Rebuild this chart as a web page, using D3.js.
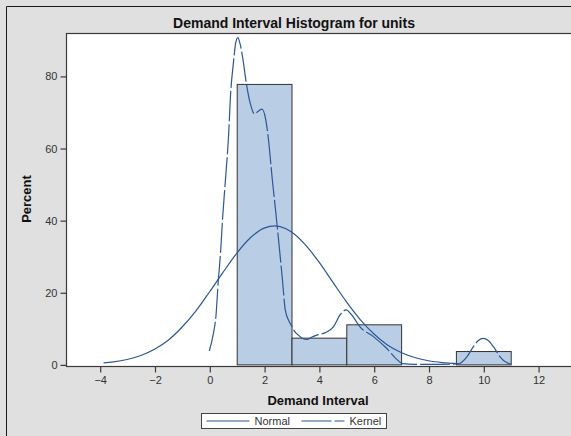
<!DOCTYPE html>
<html>
<head>
<meta charset="utf-8">
<script src="https://cdn.jsdelivr.net/npm/d3@7"></script>
<style>
  html, body { margin: 0; padding: 0; background: #e0e0e0; }
  svg { display: block; }
  text { font-family: "Liberation Sans", Arial, sans-serif; }
</style>
</head>
<body>
<svg id="chart" width="571" height="436"></svg>
<script>
// Histogram bins (demand interval) and their percent of observations
const binLower = [1, 3, 5, 9];
const binUpper = [3, 5, 7, 11];
const binPercent = [77.78, 7.41, 11.11, 3.70];

// Fitted normal density, in percent per bin
const normalX   = [-3.86, -3.5, -3.0, -2.5, -2.0, -1.5, -1.0, -0.5, 0.0, 0.5, 1.0, 1.5, 2.0, 2.4, 2.8, 3.0, 3.5, 4.0, 4.5, 5.0, 5.5, 6.0, 6.5, 7.0, 7.5, 8.0, 8.5, 9.1];
const normalPct = [0.44, 0.7, 1.35, 2.45, 4.2, 6.7, 10.3, 14.7, 20.0, 25.5, 30.8, 35.1, 37.8, 38.4, 37.6, 36.7, 33.2, 28.4, 22.9, 17.4, 12.5, 8.5, 5.4, 3.3, 1.9, 1.0, 0.5, 0.2];

// Kernel density estimate, in percent per bin
const kernelX   = [0.00, 0.15, 0.24, 0.33, 0.41, 0.49, 0.58, 0.70, 0.78, 0.88, 0.96, 1.04, 1.12, 1.21, 1.37, 1.49, 1.65, 1.80, 1.92, 2.06, 2.16, 2.30, 2.43, 2.58, 2.67, 2.77, 2.92, 3.01, 3.10, 3.25, 3.40, 3.56, 3.75, 3.92, 4.23, 4.53, 4.77, 4.99, 5.20, 5.50, 5.99, 6.48, 6.84, 7.05, 7.5, 8.0, 8.5, 9.0, 9.15, 9.40, 9.64, 9.82, 10.0, 10.18, 10.37, 10.61, 10.85, 11.0];
const kernelPct = [3.7, 8.6, 13.2, 23.4, 31.0, 41.0, 50.3, 63.0, 75.3, 83.6, 89.0, 90.6, 89.0, 85.4, 77.1, 72.5, 69.5, 70.3, 70.8, 67.9, 62.3, 51.2, 41.9, 30.5, 23.4, 15.2, 11.8, 10.6, 9.3, 8.1, 7.2, 6.9, 7.6, 8.1, 8.8, 10.4, 13.7, 15.1, 13.7, 10.4, 7.7, 4.4, 1.4, 0.2, 0, 0, 0, 0.1, 0.3, 2.1, 4.9, 6.6, 7.2, 6.6, 4.9, 2.1, 0.5, 0.1];

// Axis ticks
const xTicks = [-4, -2, 0, 2, 4, 6, 8, 10, 12];
const yTicks = [0, 20, 40, 60, 80];

const titleText = "Demand Interval Histogram for units";
const xLabel = "Demand Interval";
const yLabel = "Percent";
const legendItems = [
  { name: "Normal", dash: null },
  { name: "Kernel", dash: "30,3" }
];

const svg = d3.select("#chart");
const W = 571, H = 436;
const plot = { left: 66, top: 33, right: 572, bottom: 366 };

const curveColor = "#2b5797";
const barFill = "#b9cde5";
const frameColor = "#3a3a3a";

const x = d3.scaleLinear().domain([-5.23, 13.2]).range([plot.left, plot.left + 27.4 * 18.43]);
const y = d3.scaleLinear().domain([-0.45, 91.9]).range([plot.bottom, plot.top]);

// Page background and outer border lines
svg.append("rect").attr("width", W).attr("height", H).attr("fill", "#e0e0e0");
svg.append("line").attr("x1", 6.5).attr("x2", 6.5).attr("y1", 6.5).attr("y2", H)
  .attr("stroke", "#1a1a1a").attr("stroke-width", 1);
svg.append("line").attr("x1", 6.5).attr("x2", W).attr("y1", 6.5).attr("y2", 6.5)
  .attr("stroke", "#1a1a1a").attr("stroke-width", 1);

// Plot area
svg.append("rect")
  .attr("x", plot.left).attr("y", plot.top)
  .attr("width", plot.right - plot.left).attr("height", plot.bottom - plot.top)
  .attr("fill", "#ffffff");

svg.append("clipPath").attr("id", "plotClip")
  .append("rect").attr("x", plot.left).attr("y", plot.top)
  .attr("width", plot.right - plot.left).attr("height", plot.bottom - plot.top);

const g = svg.append("g").attr("clip-path", "url(#plotClip)");

// Histogram bars
g.selectAll("rect.bar")
  .data(binPercent.map((p, i) => ({ lo: binLower[i], hi: binUpper[i], p })))
  .join("rect")
  .attr("class", "bar")
  .attr("x", d => x(d.lo) + 0.5)
  .attr("width", d => x(d.hi) - x(d.lo))
  .attr("y", d => y(d.p) + 0.5)
  .attr("height", d => y(0) - y(d.p))
  .attr("fill", barFill)
  .attr("stroke", "#333")
  .attr("stroke-width", 1);

const line = d3.line().x(d => x(d[0])).y(d => y(d[1])).curve(d3.curveMonotoneX);

// Normal curve
g.append("path")
  .datum(normalX.map((v, i) => [v, normalPct[i]]))
  .attr("d", line)
  .attr("fill", "none").attr("stroke", curveColor).attr("stroke-width", 1.2);

// Kernel curve
g.append("path")
  .datum(kernelX.map((v, i) => [v, kernelPct[i]]))
  .attr("d", line)
  .attr("fill", "none").attr("stroke", curveColor).attr("stroke-width", 1.2)
  .attr("stroke-dasharray", "30,3");

// Frame
svg.append("rect")
  .attr("x", plot.left + 0.5).attr("y", plot.top + 0.5)
  .attr("width", plot.right - plot.left).attr("height", plot.bottom - plot.top)
  .attr("fill", "none").attr("stroke", frameColor).attr("stroke-width", 1.2);

// Axes
const xAxis = svg.append("g")
  .attr("transform", `translate(0.5,${plot.bottom + 0.5})`)
  .call(d3.axisBottom(x).tickValues(xTicks).tickSize(6).tickSizeOuter(0).tickPadding(4));
const yAxis = svg.append("g")
  .attr("transform", `translate(${plot.left + 0.5},0.5)`)
  .call(d3.axisLeft(y).tickValues(yTicks).tickSize(6).tickSizeOuter(0).tickPadding(3));
[xAxis, yAxis].forEach(a => {
  a.select(".domain").remove();
  a.selectAll(".tick line").attr("stroke", frameColor).attr("stroke-width", 1.2);
  a.selectAll(".tick text").attr("fill", "#333").style("font-size", "11px")
    .style("font-family", "'Liberation Sans', Arial, sans-serif");
});

// Title and axis labels
svg.append("text")
  .attr("x", 294).attr("y", 28)
  .attr("text-anchor", "middle")
  .style("font-size", "14px").style("font-weight", "bold").attr("fill", "#111")
  .text(titleText);

svg.append("text")
  .attr("x", 318).attr("y", 405)
  .attr("text-anchor", "middle")
  .style("font-size", "13px").style("font-weight", "bold").attr("fill", "#111")
  .text(xLabel);

svg.append("text")
  .attr("transform", "translate(31,199) rotate(-90)")
  .attr("text-anchor", "middle")
  .style("font-size", "13px").style("font-weight", "bold").attr("fill", "#111")
  .text(yLabel);

// Legend
const leg = svg.append("g").attr("transform", "translate(201.5,413.5)");
leg.append("rect").attr("width", 185).attr("height", 15)
  .attr("fill", "#fff").attr("stroke", "#444").attr("stroke-width", 1);
const legItemX = [5, 100];
legendItems.forEach((it, i) => {
  const gi = leg.append("g").attr("transform", `translate(${legItemX[i]},0)`);
  gi.append("line").attr("x1", 0).attr("x2", 43).attr("y1", 7.5).attr("y2", 7.5)
    .attr("stroke", curveColor).attr("stroke-width", 1.2)
    .attr("stroke-dasharray", it.dash);
  gi.append("text").attr("x", 48).attr("y", 11.5)
    .style("font-size", "11px").attr("fill", "#333").text(it.name);
});
</script>
</body>
</html>
